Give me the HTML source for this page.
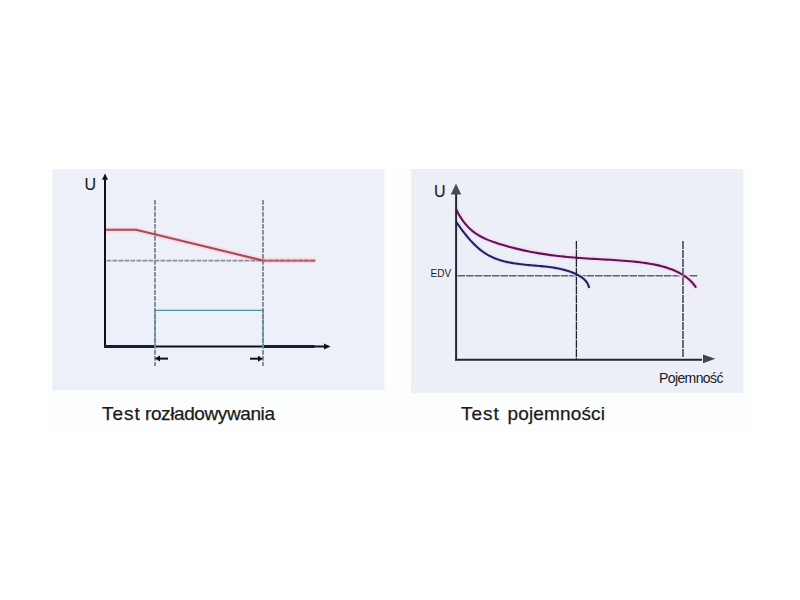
<!DOCTYPE html>
<html><head><meta charset="utf-8">
<style>
html,body{margin:0;padding:0;background:#fff;}
body{width:800px;height:600px;overflow:hidden;position:relative;font-family:"Liberation Sans",Arial,sans-serif;}
svg{position:absolute;left:0;top:0;}
.cap{position:absolute;-webkit-text-stroke:0.25px #1a1a1a;font-family:"Liberation Sans",Arial,sans-serif;color:#1a1a1a;white-space:pre;line-height:1;}
</style></head><body>
<svg width="800" height="600" viewBox="0 0 800 600">
  <rect x="48" y="169" width="704" height="262.6" fill="#fcfdfd"/>
  <!-- left panel -->
  <rect x="52.6" y="169" width="331.8" height="221" fill="#eef0f9"/>
  <rect x="52.6" y="384" width="331.8" height="6" fill="#eceef5"/>
  <polyline points="106,229.8 136,229.8 263,260.5 315.5,260.5" fill="none" stroke="#f6d9e0" stroke-width="6" stroke-linejoin="round" opacity="0.8"/>
  <!-- gray dashed verticals -->
  <line x1="155" y1="200" x2="155" y2="366" stroke="#868993" stroke-width="1.9" stroke-dasharray="4.8 1.2"/>
  <line x1="263" y1="200" x2="263" y2="366" stroke="#868993" stroke-width="1.9" stroke-dasharray="4.8 1.2"/>
  <!-- gray dashed horizontal -->
  <line x1="106.5" y1="260.7" x2="316" y2="260.7" stroke="#8b8e97" stroke-width="1.7" stroke-dasharray="4.8 1.2"/>
  <!-- red line -->
  <polyline points="106,229.8 136,229.8 263,260.5" fill="none" stroke="#a83f53" stroke-width="2.1" stroke-linejoin="round" opacity="0.95"/>
  <line x1="262.5" y1="260.6" x2="315.5" y2="260.6" stroke="#b04a5c" stroke-width="1.9" stroke-dasharray="4.8 1.2" stroke-dashoffset="0.6"/>
  <line x1="262.5" y1="260.6" x2="315.5" y2="260.6" stroke="#b86878" stroke-width="1.9" opacity="0.85"/>
  <!-- blue pulse -->
  <line x1="157" y1="310.3" x2="261" y2="310.3" stroke="#e0f5fa" stroke-width="5" opacity="0.8"/>
  <polyline points="155,348 155,310.3 263,310.3 263,348" fill="none" stroke="#5a8a9c" stroke-width="1.2"/>
  <!-- axes -->
  <line x1="105" y1="179" x2="105" y2="347.5" stroke="#111" stroke-width="2"/>
  <polygon points="105,173.5 102,179.8 108,179.8" fill="#111"/>
  <line x1="104" y1="346.5" x2="326" y2="346.5" stroke="#111" stroke-width="2"/>
  <line x1="104" y1="346.6" x2="154.3" y2="346.6" stroke="#0f2137" stroke-width="3"/>
  <line x1="263.7" y1="346.6" x2="314.5" y2="346.6" stroke="#0f2137" stroke-width="3"/>
  <polygon points="330.5,346.5 324,343.5 324,349.5" fill="#111"/>
  <line x1="155" y1="345" x2="155" y2="348.2" stroke="#8fb9d3" stroke-width="1.3"/>
  <line x1="263" y1="345" x2="263" y2="348.2" stroke="#8fb9d3" stroke-width="1.3"/>
  <!-- small arrows -->
  <line x1="158.5" y1="358.6" x2="168" y2="358.6" stroke="#111" stroke-width="2"/>
  <polygon points="154.8,358.6 160,355.6 160,361.6" fill="#111"/>
  <line x1="250" y1="358.7" x2="259" y2="358.7" stroke="#111" stroke-width="2"/>
  <polygon points="263,358.7 258,355.7 258,361.7" fill="#111"/>

  <!-- right panel -->
  <rect x="411.3" y="169" width="331.9" height="223.6" fill="#eceff8"/>
  <rect x="411.3" y="169" width="4.5" height="223.6" fill="#eeeff4"/>
  <rect x="411.3" y="389.6" width="331.9" height="3" fill="#eceef4"/>
  <!-- EDV dashed -->
  <line x1="457.5" y1="275.7" x2="698" y2="275.7" stroke="#5f626b" stroke-width="1.6" stroke-dasharray="7.6 1"/>
  <!-- halos -->
  <path d="M456.66,210.13 L458.16,213.15 L459.81,216.08 L461.61,218.90 L463.54,221.61 L465.61,224.20 L467.82,226.65 L470.17,228.95 L472.64,231.09 L475.24,233.06 L477.96,234.85 L480.78,236.49 L483.70,237.98 L486.70,239.35 L489.76,240.61 L492.87,241.77 L496.03,242.85 L499.20,243.88 L502.39,244.85 L505.58,245.79 L508.78,246.68 L511.98,247.54 L515.19,248.36 L518.41,249.14 L521.63,249.89 L524.86,250.60 L528.10,251.27 L531.34,251.91 L534.58,252.52 L537.83,253.10 L541.08,253.64 L544.34,254.16 L547.61,254.64 L550.87,255.10 L554.15,255.53 L557.42,255.93 L560.70,256.31 L563.99,256.66 L567.27,256.98 L570.56,257.29 L573.86,257.57 L577.15,257.83 L580.45,258.07 L583.75,258.29 L587.06,258.50 L590.36,258.70 L593.67,258.89 L596.98,259.07 L600.29,259.25 L603.60,259.43 L606.91,259.62 L610.21,259.81 L613.52,260.01 L616.82,260.22 L620.13,260.44 L623.43,260.69 L626.73,260.95 L630.02,261.24 L633.31,261.56 L636.60,261.90 L639.88,262.28 L643.16,262.70 L646.43,263.15 L649.69,263.67 L652.94,264.24 L656.17,264.89 L659.38,265.62 L662.58,266.44 L665.75,267.37 L668.89,268.40 L672.00,269.55 L675.07,270.83 L678.08,272.26 L681.00,273.83 L683.82,275.55 L686.52,277.45 L689.06,279.52 L691.44,281.79 L693.64,284.25 L695.62,286.92" fill="none" stroke="#f6dcf3" stroke-width="6" stroke-linecap="round" opacity="0.8"/>
  <path d="M456.67,222.64 L457.74,224.14 L458.84,225.66 L459.96,227.20 L461.10,228.75 L462.26,230.30 L463.45,231.86 L464.67,233.43 L465.91,234.98 L467.17,236.53 L468.46,238.06 L469.78,239.58 L471.13,241.08 L472.50,242.54 L473.90,243.98 L475.33,245.39 L476.79,246.75 L478.27,248.08 L479.78,249.35 L481.33,250.58 L482.90,251.75 L484.50,252.85 L486.14,253.90 L487.80,254.88 L489.49,255.80 L491.21,256.66 L492.95,257.46 L494.72,258.21 L496.51,258.90 L498.33,259.55 L500.16,260.14 L502.02,260.70 L503.89,261.21 L505.78,261.68 L507.68,262.12 L509.60,262.52 L511.53,262.88 L513.48,263.22 L515.43,263.53 L517.39,263.81 L519.36,264.07 L521.34,264.31 L523.32,264.54 L525.31,264.75 L527.30,264.94 L529.29,265.13 L531.28,265.30 L533.27,265.47 L535.26,265.64 L537.25,265.81 L539.23,265.99 L541.21,266.17 L543.18,266.36 L545.15,266.56 L547.12,266.77 L549.08,267.01 L551.03,267.26 L552.97,267.54 L554.90,267.85 L556.83,268.19 L558.74,268.56 L560.64,268.96 L562.53,269.40 L564.41,269.89 L566.28,270.42 L568.13,270.99 L569.97,271.62 L571.79,272.30 L573.60,273.03 L575.39,273.83 L577.16,274.68 L578.90,275.61 L580.60,276.62 L582.21,277.72 L583.73,278.93 L585.12,280.27 L586.36,281.74 L587.43,283.36 L588.30,285.14 L588.94,287.09" fill="none" stroke="#e4e2f6" stroke-width="5" stroke-linecap="round" opacity="0.7"/>
  <!-- purple curve -->
  <path d="M456.66,210.13 L458.16,213.15 L459.81,216.08 L461.61,218.90 L463.54,221.61 L465.61,224.20 L467.82,226.65 L470.17,228.95 L472.64,231.09 L475.24,233.06 L477.96,234.85 L480.78,236.49 L483.70,237.98 L486.70,239.35 L489.76,240.61 L492.87,241.77 L496.03,242.85 L499.20,243.88 L502.39,244.85 L505.58,245.79 L508.78,246.68 L511.98,247.54 L515.19,248.36 L518.41,249.14 L521.63,249.89 L524.86,250.60 L528.10,251.27 L531.34,251.91 L534.58,252.52 L537.83,253.10 L541.08,253.64 L544.34,254.16 L547.61,254.64 L550.87,255.10 L554.15,255.53 L557.42,255.93 L560.70,256.31 L563.99,256.66 L567.27,256.98 L570.56,257.29 L573.86,257.57 L577.15,257.83 L580.45,258.07 L583.75,258.29 L587.06,258.50 L590.36,258.70 L593.67,258.89 L596.98,259.07 L600.29,259.25 L603.60,259.43 L606.91,259.62 L610.21,259.81 L613.52,260.01 L616.82,260.22 L620.13,260.44 L623.43,260.69 L626.73,260.95 L630.02,261.24 L633.31,261.56 L636.60,261.90 L639.88,262.28 L643.16,262.70 L646.43,263.15 L649.69,263.67 L652.94,264.24 L656.17,264.89 L659.38,265.62 L662.58,266.44 L665.75,267.37 L668.89,268.40 L672.00,269.55 L675.07,270.83 L678.08,272.26 L681.00,273.83 L683.82,275.55 L686.52,277.45 L689.06,279.52 L691.44,281.79 L693.64,284.25 L695.62,286.92" fill="none" stroke="#5f1457" stroke-width="2.1" stroke-linecap="round" stroke-linejoin="round"/>
  <!-- navy curve -->
  <path d="M456.67,222.64 L457.74,224.14 L458.84,225.66 L459.96,227.20 L461.10,228.75 L462.26,230.30 L463.45,231.86 L464.67,233.43 L465.91,234.98 L467.17,236.53 L468.46,238.06 L469.78,239.58 L471.13,241.08 L472.50,242.54 L473.90,243.98 L475.33,245.39 L476.79,246.75 L478.27,248.08 L479.78,249.35 L481.33,250.58 L482.90,251.75 L484.50,252.85 L486.14,253.90 L487.80,254.88 L489.49,255.80 L491.21,256.66 L492.95,257.46 L494.72,258.21 L496.51,258.90 L498.33,259.55 L500.16,260.14 L502.02,260.70 L503.89,261.21 L505.78,261.68 L507.68,262.12 L509.60,262.52 L511.53,262.88 L513.48,263.22 L515.43,263.53 L517.39,263.81 L519.36,264.07 L521.34,264.31 L523.32,264.54 L525.31,264.75 L527.30,264.94 L529.29,265.13 L531.28,265.30 L533.27,265.47 L535.26,265.64 L537.25,265.81 L539.23,265.99 L541.21,266.17 L543.18,266.36 L545.15,266.56 L547.12,266.77 L549.08,267.01 L551.03,267.26 L552.97,267.54 L554.90,267.85 L556.83,268.19 L558.74,268.56 L560.64,268.96 L562.53,269.40 L564.41,269.89 L566.28,270.42 L568.13,270.99 L569.97,271.62 L571.79,272.30 L573.60,273.03 L575.39,273.83 L577.16,274.68 L578.90,275.61 L580.60,276.62 L582.21,277.72 L583.73,278.93 L585.12,280.27 L586.36,281.74 L587.43,283.36 L588.30,285.14 L588.94,287.09" fill="none" stroke="#272060" stroke-width="2.1" stroke-linecap="round" stroke-linejoin="round"/>
  <!-- vertical 1 -->
  <line x1="576.4" y1="241" x2="576.4" y2="359" stroke="#23252e" stroke-width="1.3" stroke-dasharray="8.3 0.7"/>
  <!-- vertical 2 -->
  <line x1="683" y1="241" x2="683" y2="357" stroke="#6a6d76" stroke-width="2" stroke-dasharray="8 1"/>
  <!-- axes -->
  <line x1="456.1" y1="192" x2="456.1" y2="360.5" stroke="#26262e" stroke-width="2"/>
  <polygon points="456,183.4 450.8,194.6 461.2,194.6" fill="#434c50"/>
  <line x1="455" y1="359.8" x2="702" y2="359.8" stroke="#26262e" stroke-width="2"/>
  <polygon points="715.3,358.7 703,354.4 703,363.2" fill="#3e464b"/>
</svg>
<div class="cap" style="left:84.5px;top:177px;font-size:16px;-webkit-text-stroke:0.1px #1a1a1a;">U</div>
<div class="cap" style="left:434px;top:184px;font-size:16px;-webkit-text-stroke:0.1px #1a1a1a;">U</div>
<div class="cap" style="left:430.5px;top:269px;font-size:10px;-webkit-text-stroke:0;">EDV</div>
<div class="cap" style="left:659px;top:371px;font-size:14px;letter-spacing:-0.6px;-webkit-text-stroke:0;">Pojemność</div>
<div class="cap" style="left:102px;top:404.4px;font-size:19px;letter-spacing:1px;">Test</div>
<div class="cap" style="left:145px;top:404.4px;font-size:19px;letter-spacing:-0.4px;">rozładowywania</div>
<div class="cap" style="left:461px;top:404.4px;font-size:19px;letter-spacing:1px;">Test</div>
<div class="cap" style="left:507.5px;top:404.4px;font-size:19px;letter-spacing:0.15px;">pojemności</div>
</body></html>
